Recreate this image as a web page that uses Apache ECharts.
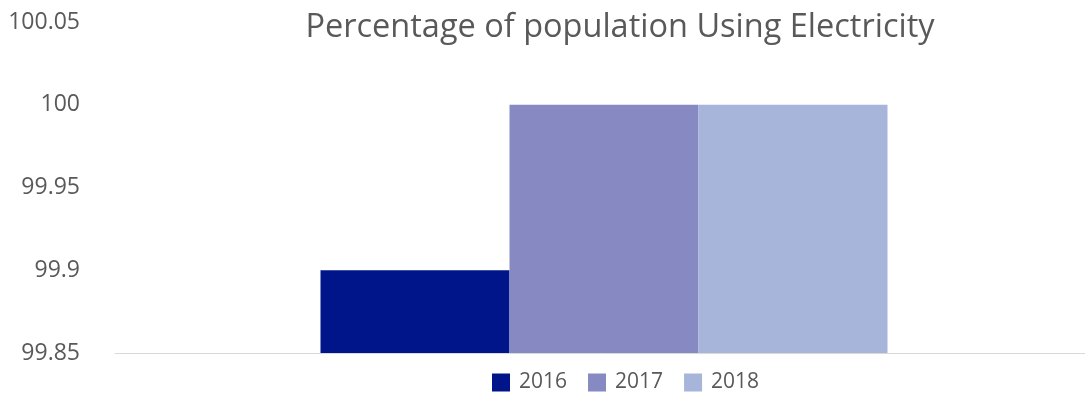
<!DOCTYPE html>
<html>
<head>
<meta charset="utf-8">
<script src="https://cdn.jsdelivr.net/npm/echarts@6/dist/echarts.min.js"></script>
<style>
  html, body { margin: 0; padding: 0; background: #fff; }
  #chart { width: 1085px; height: 394px; }
</style>
</head>
<body>
<div id="chart"></div>
<script>
// Share of the population with access to electricity, by year
const categories = ['Electricity'];
const years = ['2016', '2017', '2018'];
const values2016 = [99.9];
const values2017 = [100];
const values2018 = [100];
const yTicks = [99.85, 99.9, 99.95, 100, 100.05];
const colors = ['#00158A', '#8789C3', '#A7B5DA'];

const seriesValues = [values2016, values2017, values2018];
const font = '"Open Sans", "Noto Sans", sans-serif';

const chart = echarts.init(document.getElementById('chart'));
chart.setOption({
  animation: false,
  title: {
    text: 'Percentage of population Using Electricity',
    left: 615,
    textAlign: 'center',
    top: 6,
    textStyle: { fontFamily: font, fontSize: 32.5, fontWeight: 'normal', color: '#595959' }
  },
  legend: {
    data: years,
    top: 372,
    left: 492,
    padding: 0,
    itemWidth: 18,
    itemHeight: 18,
    itemGap: 21,
    icon: 'rect',
    textStyle: { fontFamily: font, fontSize: 21, color: '#595959', padding: [0, 0, 0, 4] }
  },
  grid: { left: 115, right: -8, top: 22, bottom: 41, outerBoundsMode: 'none' },
  xAxis: {
    type: 'category',
    data: categories,
    axisLine: { lineStyle: { color: '#D9D9D9', width: 1 } },
    axisTick: { show: false },
    axisLabel: { show: false }
  },
  yAxis: {
    type: 'value',
    min: yTicks[0],
    max: yTicks[yTicks.length - 1],
    interval: 0.05,
    splitLine: { show: false },
    axisLine: { show: false },
    axisTick: { show: false },
    axisLabel: {
      margin: 35,
      fontFamily: font,
      fontSize: 23,
      color: '#595959',
      formatter: v => String(parseFloat(v.toFixed(2)))
    }
  },
  series: years.map((y, i) => ({
    name: y,
    type: 'bar',
    data: seriesValues[i],
    barWidth: 189,
    barGap: '0%',
    itemStyle: { color: colors[i] }
  }))
});
</script>
</body>
</html>
